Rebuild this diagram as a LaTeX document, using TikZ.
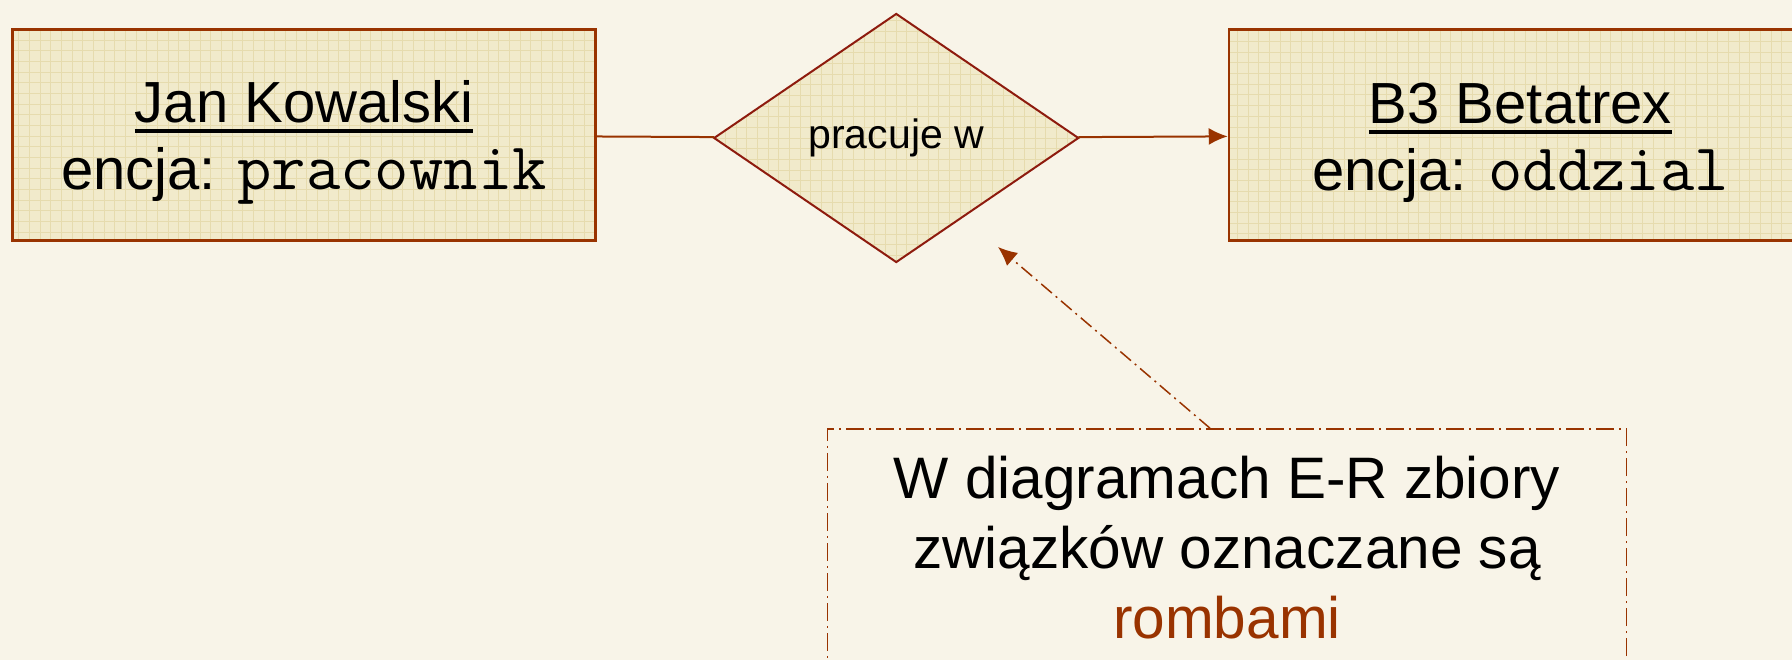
\documentclass[tikz,border=0pt]{standalone}
\usepackage{fontspec}
\setmainfont{Liberation Sans}
\usetikzlibrary{shapes.geometric, arrows.meta, positioning}

\definecolor{tlo}{HTML}{F8F4E8}
\definecolor{wypelnienie}{HTML}{F1EACB}
\definecolor{kratka}{HTML}{E6DBAE}
\definecolor{ramka}{HTML}{993300}
\definecolor{romb}{HTML}{8E1B0E}

% thick underline under entity names
\newcommand{\podkresl}[1]{\sbox0{#1}\rlap{\rule[-10pt]{\wd0}{4pt}}\usebox0}
% strut on the first line, so both lines sit in the middle of the box
\newcommand{\nazwa}[1]{\rule{0pt}{57pt}\podkresl{#1}}
% entity set name in typewriter (thin, wide)
\newcommand{\kod}[1]{{\ttfamily\fontsize{66.7}{67}\selectfont #1}}

\begin{document}
\begin{tikzpicture}[
    x=1pt, y=-1pt,
    siatka/.style={path picture={\draw[kratka, line width=0.9pt] (path picture bounding box.south west) grid[step=10.67pt] (path picture bounding box.north east);}},
    encja/.style={rectangle, draw=ramka, line width=2.5pt, fill=wypelnienie, siatka, minimum width=583pt, minimum height=211pt, align=center, font=\fontsize{58}{67}\selectfont},
    zwiazek/.style={diamond, draw=romb, line width=2pt, fill=wypelnienie, siatka, minimum width=365pt, minimum height=249pt, inner sep=0pt, font=\fontsize{41}{48}\selectfont},
    uwaga/.style={rectangle, draw=ramka, line width=1.6pt, dash pattern=on 18pt off 5pt on 2pt off 5pt, minimum width=799pt, minimum height=238pt, align=center, font=\fontsize{58.5}{70}\selectfont},
    linia/.style={draw=ramka, line width=2pt},
    arrow/.style={linia, -{Latex[length=19pt, width=17pt]}},
    arrowdash/.style={arrow, line width=1.5pt, dash pattern=on 14pt off 5pt on 2pt off 5pt}
]
    \useasboundingbox (0,0) rectangle (1792,660);
    \fill[tlo] (0,0) rectangle (1792,660);
    \clip (0,0) rectangle (1792,660);

    \node [encja] (pracownik) at (304,135) {\nazwa{Jan Kowalski}\\encja: \kod{pracownik}};
    \node [zwiazek, right=116pt of pracownik, yshift=-3pt] (pracuje) {pracuje w};
    \node [encja, right=148pt of pracuje, yshift=3pt] (oddzial) {\nazwa{B3 Betatrex}\\encja: \kod{oddzial}};
    \node [uwaga] (uwaga) at (1227,548) {W diagramach E-R zbiory\\związków oznaczane są\\\textcolor{ramka}{rombami}};
    \coordinate (grot) at (998,247);

    \draw [linia] (pracownik) -- (pracuje);
    \draw [arrow] (pracuje) -- (oddzial);
    \draw [arrowdash] ([xshift=-17pt]uwaga.north) -- (grot);
\end{tikzpicture}
\end{document}
